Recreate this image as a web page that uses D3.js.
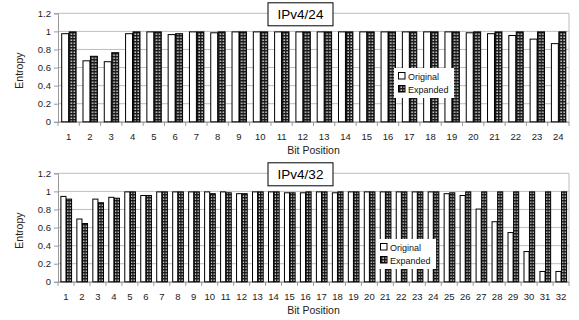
<!DOCTYPE html>
<html>
<head>
<meta charset="utf-8">
<script src="https://cdn.jsdelivr.net/npm/d3@7"></script>
<style>
  body { margin: 0; background: #fff; }
  svg { font-family: "Liberation Sans", Arial, sans-serif; }
</style>
</head>
<body>
<div id="chart"></div>
<script>
// values
const bits24 = d3.range(1, 25).map(String);
const original24 = [0.98, 0.68, 0.67, 0.98, 1.0, 0.97, 1.0, 0.99, 1.0, 1.0, 1.0, 1.0,
  1.0, 1.0, 1.0, 1.0, 1.0, 1.0, 1.0, 0.99, 0.98, 0.96, 0.92, 0.87];
const expanded24 = [1.0, 0.73, 0.77, 1.0, 1.0, 0.98, 1.0, 1.0, 1.0, 1.0, 1.0, 1.0,
  1.0, 1.0, 1.0, 1.0, 1.0, 1.0, 1.0, 1.0, 1.0, 1.0, 1.0, 1.0];

const bits32 = d3.range(1, 33).map(String);
const original32 = [0.95, 0.70, 0.92, 0.94, 1.0, 0.96, 1.0, 1.0, 1.0, 1.0, 1.0, 0.98,
  1.0, 1.0, 0.99, 0.99, 1.0, 0.99, 1.0, 1.0, 1.0, 1.0, 1.0, 1.0,
  0.98, 0.96, 0.81, 0.67, 0.55, 0.34, 0.12, 0.12];
const expanded32 = [0.92, 0.65, 0.88, 0.93, 1.0, 0.96, 1.0, 1.0, 1.0, 0.98, 0.99, 0.98,
  1.0, 1.0, 0.99, 1.0, 1.0, 1.0, 1.0, 1.0, 1.0, 1.0, 1.0, 1.0,
  0.99, 1.0, 1.0, 1.0, 1.0, 1.0, 1.0, 1.0];

const seriesNames = ["Original", "Expanded"];
const yTicks = [0, 0.2, 0.4, 0.6, 0.8, 1, 1.2];

const W = 579, H = 320;
const svg = d3.select("#chart").append("svg").attr("width", W).attr("height", H);

// checkered fill for the "Expanded" bars
const pat = svg.append("defs").append("pattern")
  .attr("id", "checker")
  .attr("patternUnits", "userSpaceOnUse")
  .attr("width", 3).attr("height", 3);
pat.append("rect").attr("width", 3).attr("height", 3).attr("fill", "#1a1a1a");
pat.append("rect").attr("x", 0.5).attr("y", 0.5).attr("width", 1.4).attr("height", 1.4).attr("fill", "#f4f4f4");

function drawPanel({ top, bits, original, expanded, title, legendPos }) {
  const left = 58, right = 569, plotTop = top, plotBottom = top + 108.5;
  const g = svg.append("g");

  const x = d3.scaleBand().domain(bits).range([left, right])
    .paddingInner(0.3).paddingOuter(0.15);
  const xs = d3.scaleBand().domain(seriesNames).range([0, x.bandwidth()]);
  const y = d3.scaleLinear().domain([0, 1.2]).range([plotBottom, plotTop]);

  // gridlines
  g.append("g").selectAll("line").data(yTicks).join("line")
    .attr("x1", left).attr("x2", right)
    .attr("y1", (d) => y(d)).attr("y2", (d) => y(d))
    .attr("stroke", "#bdbdbd").attr("stroke-width", 1);

  // right border
  g.append("line").attr("x1", right).attr("x2", right)
    .attr("y1", plotTop).attr("y2", plotBottom)
    .attr("stroke", "#bdbdbd");

  // y axis
  const yAxis = g.append("g").attr("transform", `translate(${left},0)`)
    .call(d3.axisLeft(y).tickValues(yTicks).tickSize(4).tickPadding(3)
      .tickFormat((d) => d3.format("~g")(d)));
  yAxis.select(".domain").attr("stroke", "#999");
  yAxis.selectAll(".tick line").attr("stroke", "#999");
  yAxis.selectAll("text").attr("font-size", 9.5).attr("fill", "#222")
    .attr("font-family", "Liberation Sans, Arial, sans-serif");

  // x axis with ticks on category boundaries
  const xAxis = g.append("g").attr("transform", `translate(0,${plotBottom})`)
    .call(d3.axisBottom(x).tickSize(0).tickPadding(11));
  xAxis.select(".domain").attr("stroke", "#999");
  xAxis.selectAll("text").attr("font-size", 9.5).attr("fill", "#222")
    .attr("font-family", "Liberation Sans, Arial, sans-serif");
  const step = x.step();
  const bounds = bits.map((b) => x(b) - (step - x.bandwidth()) / 2).concat([right]);
  g.append("g").selectAll("line").data(bounds).join("line")
    .attr("x1", (d) => d).attr("x2", (d) => d)
    .attr("y1", plotBottom).attr("y2", plotBottom + 4)
    .attr("stroke", "#999");

  // bars
  const rows = bits.map((b, i) => ({ bit: b, Original: original[i], Expanded: expanded[i] }));
  g.append("g").selectAll("g").data(rows).join("g")
    .attr("transform", (d) => `translate(${x(d.bit)},0)`)
    .selectAll("rect")
    .data((d) => seriesNames.map((k) => ({ key: k, value: d[k] })))
    .join("rect")
    .attr("x", (d) => xs(d.key) + 0.5)
    .attr("y", (d) => y(d.value) + 0.5)
    .attr("width", xs.bandwidth() - 0.5)
    .attr("height", (d) => y(0) - y(d.value) - 0.5)
    .attr("fill", (d) => (d.key === "Original" ? "#fff" : "url(#checker)"))
    .attr("stroke", "#000").attr("stroke-width", 1);

  // axis titles
  g.append("text")
    .attr("transform", `translate(23,${(plotTop + plotBottom) / 2 + 3}) rotate(-90)`)
    .attr("text-anchor", "middle").attr("font-size", 10.5).attr("fill", "#222")
    .text("Entropy");
  g.append("text")
    .attr("x", (left + right) / 2).attr("y", plotBottom + 32)
    .attr("text-anchor", "middle").attr("font-size", 10.5).attr("fill", "#222")
    .text("Bit Position");

  // title box
  const tg = g.append("g").attr("transform", `translate(268,${plotTop - 10.5})`);
  tg.append("rect").attr("width", 65).attr("height", 23)
    .attr("fill", "#fff").attr("stroke", "#000").attr("stroke-width", 1);
  tg.append("text").attr("x", 32.5).attr("y", 16.5).attr("text-anchor", "middle")
    .attr("font-size", 13.5).attr("fill", "#000").text(title);

  // legend
  const lg = g.append("g").attr("transform", `translate(${legendPos[0]},${legendPos[1]})`);
  lg.append("rect").attr("width", 60).attr("height", 30).attr("fill", "#fff");
  seriesNames.forEach((name, i) => {
    lg.append("rect").attr("x", 4.5).attr("y", 4.5 + i * 13).attr("width", 6.5).attr("height", 6.5)
      .attr("fill", name === "Original" ? "#fff" : "url(#checker)")
      .attr("stroke", "#000").attr("stroke-width", 1);
    lg.append("text").attr("x", 14).attr("y", 11.5 + i * 13)
      .attr("font-size", 9).attr("fill", "#111").text(name);
  });
}

drawPanel({ top: 13.3, bits: bits24, original: original24, expanded: expanded24,
  title: "IPv4/24", legendPos: [394, 68] });
drawPanel({ top: 173.3, bits: bits32, original: original32, expanded: expanded32,
  title: "IPv4/32", legendPos: [376, 239] });
</script>
</body>
</html>
